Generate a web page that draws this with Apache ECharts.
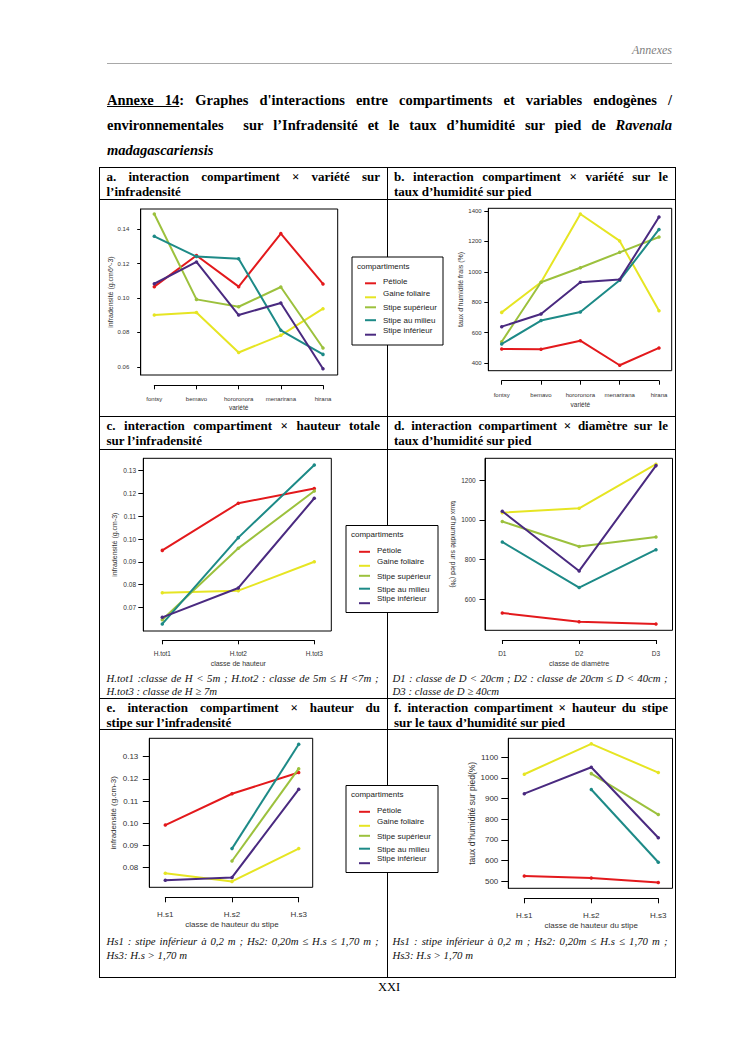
<!DOCTYPE html>
<html lang="fr">
<head>
<meta charset="utf-8">
<title>Annexe 14</title>
<script src="https://cdn.jsdelivr.net/npm/echarts@6.0.0/dist/echarts.min.js"></script>
<style>
html,body{margin:0;padding:0;background:#fff;}
#page{position:relative;width:745px;height:1053px;overflow:hidden;font-family:"Liberation Serif","Times New Roman",serif;color:#000;}
.a{position:absolute;white-space:nowrap;}
.j{text-align:justify;text-align-last:justify;}
.hl{position:absolute;height:0;border-top:1px solid #000;}
.vl{position:absolute;width:0;border-left:1px solid #000;}
.tt{font-size:14.5px;font-weight:bold;line-height:25px;left:107px;width:565px;}
.ct{font-size:13px;font-weight:bold;line-height:15px;}
.cap{font-size:10.8px;font-style:italic;line-height:13px;color:#111;}
.L{left:106.5px;width:273.5px;}
.R{left:394px;width:274px;}
.LC{left:106.5px;width:272px;}
.RC{left:392.5px;width:275px;}
#chart{position:absolute;left:0;top:0;width:745px;height:1053px;}
</style>
</head>
<body>
<div id="page">
  <div class="a" style="left:560px;width:112px;top:43px;line-height:14px;font-size:12px;font-style:italic;color:#808080;text-align:right;">Annexes</div>
  <div class="hl" style="left:107px;width:565px;top:63px;border-top-color:#a8a8a8;"></div>

  <div class="a tt j" style="top:87.5px"><u>Annexe 14</u>: Graphes d'interactions entre compartiments et variables endogènes /</div>
  <div class="a tt j" style="top:112.5px">environnementales &nbsp;sur l’Infradensité et le taux d’humidité sur pied de <i>Ravenala</i></div>
  <div class="a tt" style="top:137.5px"><i>madagascariensis</i></div>

  <!-- table lines -->
  <div class="hl" style="left:99px;width:576px;top:167px"></div>
  <div class="hl" style="left:99px;width:576px;top:199px"></div>
  <div class="hl" style="left:99px;width:576px;top:416px"></div>
  <div class="hl" style="left:99px;width:576px;top:449px"></div>
  <div class="hl" style="left:99px;width:576px;top:698px"></div>
  <div class="hl" style="left:99px;width:576px;top:729px"></div>
  <div class="hl" style="left:99px;width:577px;top:977px"></div>
  <div class="vl" style="left:99px;top:167px;height:810px"></div>
  <div class="vl" style="left:387px;top:167px;height:810px"></div>
  <div class="vl" style="left:675px;top:167px;height:810px"></div>

  <!-- cell titles -->
  <div class="a ct j L" style="top:168.5px">a. interaction compartiment × variété sur</div>
  <div class="a ct L" style="top:183.5px">l’infradensité</div>
  <div class="a ct j R" style="top:168.5px">b. interaction compartiment × variété sur le</div>
  <div class="a ct R" style="top:183.5px">taux d’humidité sur pied</div>

  <div class="a ct j L" style="top:417.5px">c. interaction compartiment × hauteur totale</div>
  <div class="a ct L" style="top:432.5px">sur l’infradensité</div>
  <div class="a ct j R" style="top:417.5px">d. interaction compartiment × diamètre sur le</div>
  <div class="a ct R" style="top:432.5px">taux d’humidité sur pied</div>

  <div class="a ct j L" style="top:699.5px">e. interaction compartiment × hauteur du</div>
  <div class="a ct L" style="top:714.5px">stipe sur l’infradensité</div>
  <div class="a ct j R" style="top:699.5px">f. interaction compartiment × hauteur du stipe</div>
  <div class="a ct R" style="top:714.5px">sur le taux d’humidité sur pied</div>

  <!-- captions -->
  <div class="a cap j LC" style="top:671.5px">H.tot1 :classe de H &lt; 5m ; H.tot2 : classe de 5m ≤ H &lt;7m ;</div>
  <div class="a cap LC" style="top:685px">H.tot3 : classe de H ≥ 7m</div>
  <div class="a cap j RC" style="top:671.5px">D1 : classe de D &lt; 20cm ; D2 : classe de 20cm ≤ D &lt; 40cm ;</div>
  <div class="a cap RC" style="top:685px">D3 : classe de D ≥ 40cm</div>
  <div class="a cap j LC" style="top:935px">Hs1 : stipe inférieur à 0,2 m ; Hs2: 0,20m ≤ H.s ≤ 1,70 m ;</div>
  <div class="a cap LC" style="top:948.5px">Hs3: H.s &gt; 1,70 m</div>
  <div class="a cap j RC" style="top:935px">Hs1 : stipe inférieur à 0,2 m ; Hs2: 0,20m ≤ H.s ≤ 1,70 m ;</div>
  <div class="a cap RC" style="top:948.5px">Hs3: H.s &gt; 1,70 m</div>

  <div class="a" style="left:339px;width:100px;top:979.5px;line-height:14px;font-size:12.5px;text-align:center;">XXI</div>

  <div id="chart"></div>
</div>

<script>
// ---------- DATA ----------
const compartiments = ['Pétiole', 'Gaine foliaire', 'Stipe supérieur', 'Stipe au milieu', 'Stipe inférieur'];
const couleurs = ['#e3191c', '#e6e523', '#9cc13d', '#1d8a87', '#4a2a80'];

const varietes = ['fontsy', 'bemavo', 'hororonora', 'menarirana', 'hirana'];
const classesHauteur = ['H.tot1', 'H.tot2', 'H.tot3'];
const classesDiametre = ['D1', 'D2', 'D3'];
const classesStipe = ['H.s1', 'H.s2', 'H.s3'];

// a. infradensité x variété
const aPetiole  = [0.1066, 0.1247, 0.1066, 0.1375, 0.1082];
const aGaine    = [0.0901, 0.0916, 0.0683, 0.0783, 0.0938];
const aStipeSup = [0.1489, 0.0992, 0.0949, 0.1064, 0.0709];
const aStipeMil = [0.1359, 0.1241, 0.1229, 0.0812, 0.0672];
const aStipeInf = [0.1083, 0.1210, 0.0901, 0.0971, 0.0588];
const aTicks = [0.06, 0.08, 0.10, 0.12, 0.14];

// b. humidité x variété
const bPetiole  = [492, 490, 547, 385, 499];
const bGaine    = [733, 931, 1380, 1203, 744];
const bStipeSup = [540, 931, 1027, 1128, 1229];
const bStipeMil = [525, 679, 736, 944, 1279];
const bStipeInf = [639, 722, 931, 950, 1360];
const bTicks = [400, 600, 800, 1000, 1200, 1400];

// c. infradensité x hauteur totale
const cPetiole  = [0.0950, 0.1157, 0.1222];
const cGaine    = [0.0764, 0.0773, 0.0900];
const cStipeSup = [0.0645, 0.0959, 0.1211];
const cStipeMil = [0.0627, 0.1006, 0.1325];
const cStipeInf = [0.0656, 0.0785, 0.1179];
const cTicks = [0.07, 0.08, 0.09, 0.10, 0.11, 0.12, 0.13];

// d. humidité x diamètre
const dPetiole  = [531, 487, 476];
const dGaine    = [1037, 1059, 1281];
const dStipeSup = [992, 866, 914];
const dStipeMil = [889, 659, 850];
const dStipeInf = [1044, 743, 1274];
const dTicks = [600, 800, 1000, 1200];

// e. infradensité x hauteur du stipe
const ePetiole  = [0.0992, 0.1133, 0.1229];
const eGaine    = [0.0775, 0.0738, 0.0886];
const eStipeSup = [null, 0.0830, 0.1246];
const eStipeMil = [null, 0.0886, 0.1356];
const eStipeInf = [0.0743, 0.0756, 0.1153];
const eTicks = [0.08, 0.09, 0.10, 0.11, 0.12, 0.13];

// f. humidité x hauteur du stipe
const fPetiole  = [526, 516, 494];
const fGaine    = [1018, 1165, 1026];
const fStipeSup = [null, 1021, 823];
const fStipeMil = [null, 944, 592];
const fStipeInf = [924, 1052, 711];
const fTicks = [500, 600, 700, 800, 900, 1000, 1100];

// ---------- PANELS ----------
const panels = [
  {cats: varietes, vals: [aPetiole, aGaine, aStipeSup, aStipeMil, aStipeInf], ticks: aTicks, dec: 2,
   yName: 'infradensité (g.cm6^-3)', xName: 'variété'},
  {cats: varietes, vals: [bPetiole, bGaine, bStipeSup, bStipeMil, bStipeInf], ticks: bTicks, dec: 0,
   yName: 'taux d\u2019humidité frais (%)', xName: 'variété'},
  {cats: classesHauteur, vals: [cPetiole, cGaine, cStipeSup, cStipeMil, cStipeInf], ticks: cTicks, dec: 2,
   yName: 'infradensité (g.cm-3)', xName: 'classe de hauteur'},
  {cats: classesDiametre, vals: [dPetiole, dGaine, dStipeSup, dStipeMil, dStipeInf], ticks: dTicks, dec: 0,
   yName: 'taux d\u2019humidité sur pied (%)', xName: 'classe de diamètre'},
  {cats: classesStipe, vals: [ePetiole, eGaine, eStipeSup, eStipeMil, eStipeInf], ticks: eTicks, dec: 2,
   yName: 'infradensité (g.cm-3)', xName: 'classe de hauteur du stipe'},
  {cats: classesStipe, vals: [fPetiole, fGaine, fStipeSup, fStipeMil, fStipeInf], ticks: fTicks, dec: 0,
   yName: 'taux d\u2019humidité sur pied(%)', xName: 'classe de hauteur du stipe'}
];

// ---------- LAYOUT (pixel positions, axis ranges, styles) ----------
const layout = [
  {box: [140.7, 209, 337.7, 375], t: [154.3, 323], ax: 385.3, y: [0.0552, 0.1518],
   fs: 6, xnfs: 6.5, ynfs: 7, ylm: 11.4, ytl: 3.5, xlm: 10.4, xtl: 4, xng: 18.5, yng: 23.9, rot: 90},
  {box: [488.3, 208.3, 671.7, 370.7], t: [501.7, 659], ax: 380.7, y: [349.3, 1417.8],
   fs: 6, xnfs: 6.5, ynfs: 7, ylm: 6.6, ytl: 4, xlm: 11.3, xtl: 4, xng: 20, yng: 22.1, rot: 90},
  {box: [143.3, 458.3, 331.3, 631], t: [162.3, 314.3], ax: 640.3, y: [0.05959, 0.13545],
   fs: 6.5, xnfs: 7, ynfs: 7, ylm: 7.3, ytl: 5, xlm: 9.75, xtl: 4, xng: 19.5, yng: 25.8, rot: 90},
  {box: [485, 458.3, 672.5, 630.3], t: [502.3, 656], ax: 640, y: [443.7, 1310.9],
   fs: 6.5, xnfs: 7.2, ynfs: 7, ylm: 9.3, ytl: 5.5, xlm: 10.45, xtl: 4, xng: 19.7, yng: 28.5, rot: -90},
  {box: [149.3, 738.3, 312.7, 887.3], t: [165.3, 298.7], ax: 897.3, y: [0.07117, 0.13829],
   fs: 8, xnfs: 8, ynfs: 8, ylm: 11, ytl: 6.5, xlm: 12.7, xtl: 5, xng: 23, yng: 32.3, rot: 90},
  {box: [508.3, 738.3, 672.5, 888.3], t: [524.3, 658.3], ax: 898.3, y: [466.1, 1191.9],
   fs: 8, xnfs: 8, ynfs: 8.5, ylm: 10, ytl: 7, xlm: 12.7, xtl: 5, xng: 22.7, yng: 30.75, rot: 90}
];

const legendBoxes = [
  {x: 352, y: 257, w: 91, h: 88},
  {x: 346, y: 525.5, w: 92, h: 87},
  {x: 346, y: 785.5, w: 92, h: 87}
];
// vertical offsets (from legend box top) of the key lines and of the item texts
const legendLineY = [26.3, 40.3, 50.3, 63.2, 77.7];
const legendTextY = [24.5, 36.0, 50.5, 63.8, 73.0];

const txtCol = '#333';
const grid = [], xAxis = [], yAxis = [], series = [], legend = [], graphic = [];

panels.forEach((p, i) => {
  const g = layout[i];
  const [x0, y0, x1, y1] = g.box;
  const n = p.cats.length;
  const unit = (g.t[1] - g.t[0]) / (n - 1);
  const gm = 2 * i, ga = 2 * i + 1;
  grid.push({left: x0, top: y0, width: x1 - x0, height: y1 - y0, show: true,
             borderColor: '#000', borderWidth: 1, backgroundColor: 'transparent'});
  grid.push({left: g.t[0], top: g.ax - 1, width: g.t[1] - g.t[0], height: 1, show: false});

  xAxis.push({type: 'value', gridIndex: gm, min: -(g.t[0] - x0) / unit, max: (n - 1) + (x1 - g.t[1]) / unit,
              show: false, splitLine: {show: false}});
  xAxis.push({type: 'category', gridIndex: ga, data: p.cats, boundaryGap: false, position: 'bottom',
              axisLine: {show: true, onZero: false, lineStyle: {color: '#000', width: 1}},
              axisTick: {show: true, length: g.xtl, lineStyle: {color: '#000', width: 1}},
              axisLabel: {interval: 0, fontSize: g.fs, color: txtCol, margin: g.xlm},
              splitLine: {show: false},
              name: p.xName, nameLocation: 'middle', nameGap: g.xng,
              nameTextStyle: {fontSize: g.xnfs, color: txtCol}});

  yAxis.push({type: 'value', gridIndex: gm, min: g.y[0], max: g.y[1],
              axisLine: {show: true, onZero: false, lineStyle: {color: '#000', width: 1}},
              axisTick: {show: true, length: g.ytl, customValues: p.ticks, lineStyle: {color: '#000', width: 1}},
              axisLabel: {customValues: p.ticks, fontSize: g.fs, color: txtCol, margin: g.ylm,
                          formatter: v => Number(v).toFixed(p.dec)},
              splitLine: {show: false},
              name: p.yName, nameLocation: 'middle', nameGap: g.yng, nameRotate: g.rot,
              nameTextStyle: {fontSize: g.ynfs, color: txtCol}});
  yAxis.push({type: 'value', gridIndex: ga, show: false, splitLine: {show: false}});

  p.vals.forEach((vals, k) => {
    series.push({
      type: 'line', name: compartiments[k], xAxisIndex: gm, yAxisIndex: gm,
      data: vals.map((v, j) => [j, v == null ? '-' : v]),
      color: couleurs[k],
      symbol: 'circle', symbolSize: 3.5, showSymbol: true,
      lineStyle: {color: couleurs[k], width: 2},
      itemStyle: {color: couleurs[k]},
      emphasis: {disabled: true},
      z: 3 + k
    });
  });
});

legendBoxes.forEach(b => {
  graphic.push({type: 'rect', z: 1,
                shape: {x: b.x, y: b.y, width: b.w, height: b.h},
                style: {fill: '#fff', stroke: '#000', lineWidth: 1}});
  graphic.push({type: 'text', z: 2, x: b.x + 5, y: b.y + 9,
                style: {text: 'compartiments', fontSize: 8, fill: '#222', align: 'left', verticalAlign: 'middle',
                        fontFamily: 'Liberation Sans, Arial, sans-serif'}});
  compartiments.forEach((name, k) => {
    // key line
    legend.push({left: b.x + 13, top: b.y + legendLineY[k] - 1, data: [name], icon: 'rect',
                 itemWidth: 11, itemHeight: 2, padding: 0, itemGap: 0, selectedMode: false, z: 10,
                 formatter: () => '', textStyle: {fontSize: 1, lineHeight: 2, padding: 0}});
    // item text
    legend.push({left: b.x + 26, top: b.y + legendTextY[k] - 5, data: [name], icon: 'rect',
                 itemWidth: 0, itemHeight: 0, padding: 0, itemGap: 0, selectedMode: false, z: 10,
                 textStyle: {fontSize: 8, color: '#222', padding: 0, lineHeight: 10}});
  });
});

const chart = echarts.init(document.getElementById('chart'), null, {renderer: 'svg', width: 745, height: 1053});
chart.setOption({
  animation: false,
  backgroundColor: 'transparent',
  textStyle: {fontFamily: 'Liberation Sans, Arial, sans-serif'},
  grid, xAxis, yAxis, series, legend, graphic
});
</script>
</body>
</html>
